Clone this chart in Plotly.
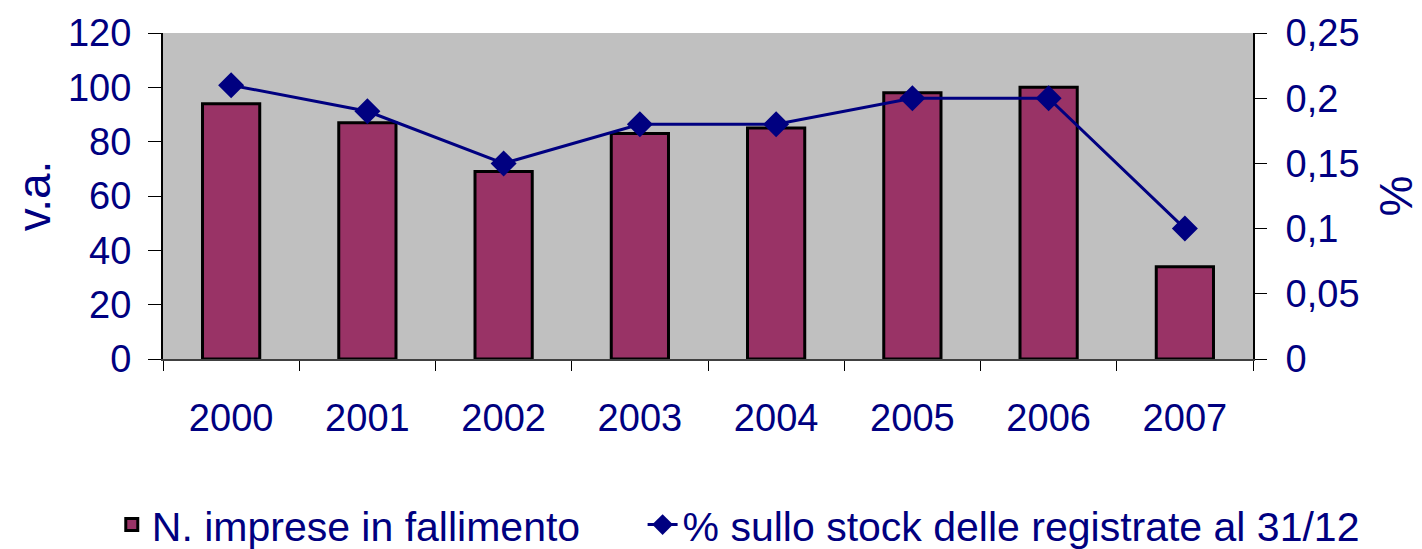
import plotly.graph_objects as go

# Dati
anni = ['2000', '2001', '2002', '2003', '2004', '2005', '2006', '2007']
imprese_fallimento = [94, 87, 69, 83, 85, 98, 100, 34]
perc_stock = [0.21, 0.19, 0.15, 0.18, 0.18, 0.20, 0.20, 0.10]

navy = '#000080'
font_fam = 'Liberation Sans, Arial, sans-serif'

fig = go.Figure()

# Barre: numero imprese in fallimento
fig.add_trace(go.Bar(
    x=anni, y=imprese_fallimento, name='N. imprese in fallimento',
    marker=dict(color='#993366', line=dict(color='black', width=3)),
    width=0.42, yaxis='y', xaxis='x', legend='legend'
))

# Linea: % sullo stock
fig.add_trace(go.Scatter(
    x=anni, y=perc_stock, name='% sullo stock delle registrate al 31/12',
    mode='lines+markers', yaxis='y2', xaxis='x', legend='legend2',
    line=dict(color=navy, width=3),
    marker=dict(symbol='diamond', size=20, color=navy)
))

# la pagina ha un margine di 8px, quindi la figura è un po' più piccola
fig.update_layout(
    width=1414, height=541,
    margin=dict(l=155, r=169, t=25, b=190, autoexpand=False),
    paper_bgcolor='white', plot_bgcolor='#C0C0C0',
    font=dict(family=font_fam, size=38, color=navy),
    separators=', ',
    showlegend=True,
    legend=dict(orientation='h', x=-0.047, xanchor='left', y=-0.509, yanchor='middle',
                font=dict(size=41, color=navy), itemwidth=30,
                bgcolor='rgba(0,0,0,0)'),
    legend2=dict(orientation='h', x=0.44, xanchor='left', y=-0.509, yanchor='middle',
                 font=dict(size=41, color=navy), itemwidth=30,
                 bgcolor='rgba(0,0,0,0)'),
    bargap=0.58,
    xaxis=dict(type='category', showline=True, linecolor='#404040', linewidth=2,
               ticks='outside', ticklen=10, tickwidth=1, tickcolor='black',
               tickson='boundaries', ticklabelstandoff=24, showgrid=False,
               range=[-0.5, 7.5], automargin=False),
    yaxis=dict(range=[0, 120], dtick=20, showline=True, linecolor='black', linewidth=2,
               ticks='outside', ticklen=13, tickwidth=1, tickcolor='black',
               ticklabelstandoff=9, showgrid=False, zeroline=False, automargin=False,
               title=dict(text='v.a.', standoff=34)),
    yaxis2=dict(range=[0, 0.25], dtick=0.05, overlaying='y', side='right', anchor='x',
                showline=True, linecolor='black', linewidth=2,
                ticks='outside', ticklen=12, tickwidth=1, tickcolor='black',
                ticklabelstandoff=11, showgrid=False, zeroline=False, automargin=False,
                tickformat='.2~f',
                title=dict(text='%', standoff=22)),
    # assi sovrapposti per le tacche interne e il bordo superiore
    xaxis2=dict(overlaying='x', anchor='y', range=[-0.5, 7.5], tick0=-0.5, dtick=1,
                ticks='inside', ticklen=14, tickwidth=1, tickcolor='black',
                showticklabels=False, showgrid=False, zeroline=False, showline=False),
    xaxis3=dict(overlaying='x', anchor='y', side='top', range=[-0.5, 7.5],
                showline=True, linecolor='#8c8c8c', linewidth=2, ticks='',
                showticklabels=False, showgrid=False, zeroline=False),
    yaxis3=dict(overlaying='y', anchor='x', range=[0, 120], dtick=20, side='left',
                ticks='inside', ticklen=13, tickwidth=1, tickcolor='black',
                showticklabels=False, showgrid=False, zeroline=False, showline=False),
    yaxis4=dict(overlaying='y', anchor='x', range=[0, 0.25], dtick=0.05, side='right',
                ticks='inside', ticklen=12, tickwidth=1, tickcolor='black',
                showticklabels=False, showgrid=False, zeroline=False, showline=False),
)

fig.write_html('out.html')
